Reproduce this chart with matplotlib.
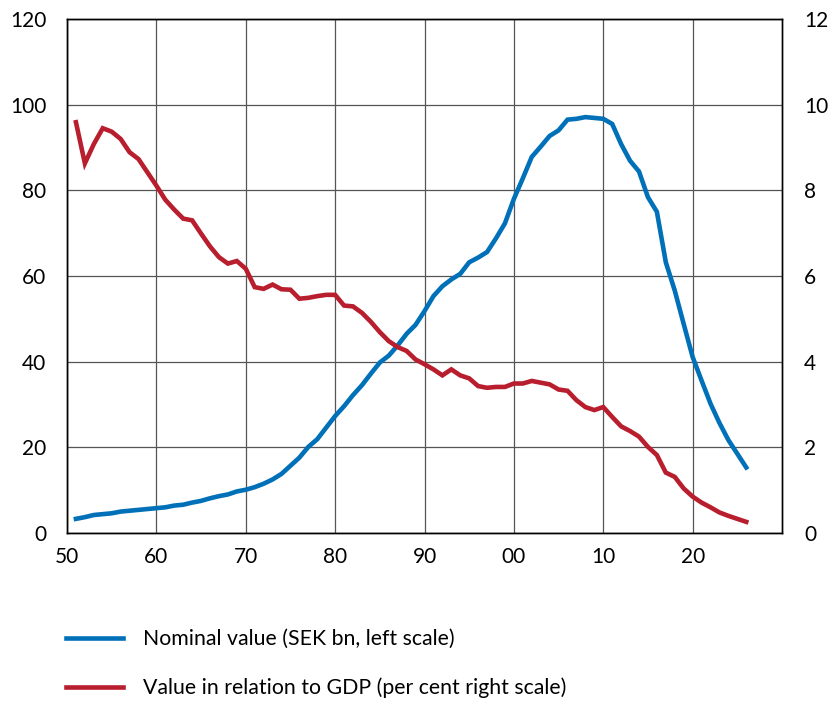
import matplotlib
matplotlib.use("Agg")
import matplotlib.pyplot as plt

plt.rcParams['font.family'] = ['Lato', 'DejaVu Sans']

years = list(range(1951, 2027))
nominal = [3.3, 3.7, 4.2, 4.4, 4.6, 5.0, 5.2, 5.4, 5.6, 5.8,
           6.0, 6.4, 6.6, 7.1, 7.5, 8.1, 8.6, 9.0, 9.7, 10.1,
           10.7, 11.5, 12.5, 13.8, 15.7, 17.6, 20.1, 21.9, 24.6, 27.3,
           29.6, 32.2, 34.5, 37.2, 39.8, 41.4, 43.8, 46.5, 48.6, 51.8,
           55.3, 57.6, 59.2, 60.5, 63.2, 64.3, 65.6, 68.8, 72.3, 78.0,
           82.8, 87.8, 90.2, 92.7, 94.0, 96.5, 96.7, 97.1, 96.9, 96.7,
           95.5, 90.8, 86.9, 84.4, 78.4, 75.0, 63.2, 56.6, 48.8, 41.1,
           35.6, 30.2, 25.7, 21.7, 18.5, 15.3]
gdp_share = [9.59, 8.63, 9.08, 9.45, 9.37, 9.20, 8.89, 8.73, 8.42, 8.11,
             7.78, 7.55, 7.34, 7.30, 6.99, 6.69, 6.44, 6.29, 6.35, 6.17,
             5.74, 5.70, 5.80, 5.69, 5.68, 5.47, 5.49, 5.53, 5.56, 5.56,
             5.31, 5.29, 5.14, 4.93, 4.69, 4.48, 4.34, 4.25, 4.05, 3.94,
             3.82, 3.68, 3.82, 3.68, 3.61, 3.43, 3.39, 3.41, 3.41, 3.49,
             3.49, 3.55, 3.51, 3.47, 3.35, 3.32, 3.10, 2.94, 2.87, 2.94,
             2.71, 2.49, 2.38, 2.25, 2.01, 1.82, 1.41, 1.31, 1.04, 0.85,
             0.71, 0.60, 0.48, 0.40, 0.33, 0.26]

x_ticks = [1950, 1960, 1970, 1980, 1990, 2000, 2010, 2020]
x_labels = ["50", "60", "70", "80", "90", "00", "10", "20"]
left_ticks = [0, 20, 40, 60, 80, 100, 120]
right_ticks = [0, 2, 4, 6, 8, 10, 12]

label_blue = "Nominal value (SEK bn, left scale)"
label_red = "Value in relation to GDP (per cent right scale)"

blue = '#0070B8'
red = '#B81E2D'

fig = plt.figure(figsize=(8.30, 7.02), dpi=100)
ax = fig.add_axes([67/830, 1-533/702, (782-67)/830, (533-19)/702])
ax2 = ax.twinx()

ax.set_xlim(1950, 2030)
ax.set_ylim(0, 120)
ax2.set_ylim(0, 12)

ax.set_xticks(x_ticks)
ax.set_xticklabels(x_labels)
ax.set_yticks(left_ticks)
ax2.set_yticks(right_ticks)

ax.grid(True, color='#555555', lw=0.9)
ax.set_axisbelow(True)

ln1, = ax.plot(years, nominal, color=blue, lw=3.3, solid_joinstyle='miter', zorder=3)
ln2, = ax2.plot(years, gdp_share, color=red, lw=3.3, solid_joinstyle='miter', zorder=3)

fs = 15
for a in (ax, ax2):
    for s in a.spines.values():
        s.set_color('black')
        s.set_linewidth(1.0)
ax.tick_params(axis='both', length=0, labelsize=fs, colors='black')
ax.tick_params(axis='y', pad=15)
ax.tick_params(axis='x', pad=10)
ax2.tick_params(axis='y', length=0, labelsize=fs, pad=16)

fig.legend([ln1, ln2], [label_blue, label_red], loc='upper left',
           bbox_to_anchor=(47/830, 1-610/702), frameon=False, fontsize=15.3,
           handlelength=2.68, handletextpad=0.94, labelspacing=1.35)

fig.savefig('out.png', dpi=100)
